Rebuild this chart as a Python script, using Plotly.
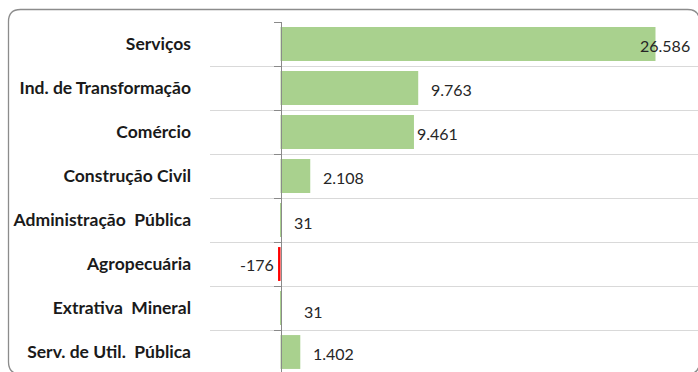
import plotly.graph_objects as go

# Saldo de empregos por setor de atividade
sectors = [
    "Serviços",
    "Ind. de Transformação",
    "Comércio",
    "Construção Civil",
    "Administração  Pública",
    "Agropecuária",
    "Extrativa  Mineral",
    "Serv. de Util.  Pública",
]
saldo = [26586, 9763, 9461, 2108, 31, -176, 31, 1402]

# label nudges (px) relative to the end of each bar
label_dx = [-17, 11, 1, 11, 11, -2, 21, 11]
label_dy = [-1, -1, -1, -1, -2, 0, -3, -1]

GREEN = "#a9d18e"
RED = "#ff0000"

FIG_W, FIG_H = 698, 372
M_L, M_T = 210, 22
X_RANGE = [-5000, 29600]


def fmt(v):
    return f"{v:,}".replace(",", ".")


fig = go.Figure(
    go.Bar(
        x=saldo,
        y=sectors,
        orientation="h",
        marker=dict(color=[GREEN if v >= 0 else RED for v in saldo], line_width=0),
        hoverinfo="skip",
    )
)

for name, v, dx, dy in zip(sectors, saldo, label_dx, label_dy):
    fig.add_annotation(
        x=v,
        y=name,
        text=fmt(v),
        showarrow=False,
        xanchor="left" if v >= 0 else "right",
        yanchor="middle",
        xshift=dx,
        yshift=dy,
        font=dict(family="Lato", size=16, color="#262626"),
    )

# rounded chart frame (pixel geometry converted to paper units)
plot_w = FIG_W - M_L
plot_h = FIG_H - M_T


def px(xp):
    return (xp - M_L) / plot_w


def py(yp):
    return (FIG_H - yp) / plot_h


x0, x1, y0, y1, r = 8.5, 699.5, 9.5, 374.0, 12
path = (
    f"M {px(x0 + r)},{py(y0)} L {px(x1 - r)},{py(y0)} "
    f"Q {px(x1)},{py(y0)} {px(x1)},{py(y0 + r)} "
    f"L {px(x1)},{py(y1 - r)} Q {px(x1)},{py(y1)} {px(x1 - r)},{py(y1)} "
    f"L {px(x0 + r)},{py(y1)} Q {px(x0)},{py(y1)} {px(x0)},{py(y1 - r)} "
    f"L {px(x0)},{py(y0 + r)} Q {px(x0)},{py(y0)} {px(x0 + r)},{py(y0)} Z"
)
fig.add_shape(
    type="path",
    path=path,
    xref="paper",
    yref="paper",
    line=dict(color="#8c8c8c", width=1.3),
    fillcolor="rgba(0,0,0,0)",
    layer="above",
)

band_px = 44
fig.update_layout(
    width=FIG_W,
    height=FIG_H,
    autosize=False,
    margin=dict(l=M_L, r=0, t=M_T, b=0, pad=0),
    paper_bgcolor="white",
    plot_bgcolor="white",
    bargap=0.23,
    showlegend=False,
    xaxis=dict(
        range=X_RANGE,
        showgrid=False,
        zeroline=False,
        showticklabels=False,
        ticks="",
        showline=False,
    ),
    yaxis=dict(
        type="category",
        categoryorder="array",
        categoryarray=sectors,
        range=[-0.5 + plot_h / band_px, -0.5],
        anchor="free",
        position=(0 - X_RANGE[0]) / (X_RANGE[1] - X_RANGE[0]),
        showline=True,
        linecolor="#8a8a8a",
        linewidth=1,
        ticks="outside",
        tickson="boundaries",
        ticklen=7,
        tickcolor="#8a8a8a",
        showgrid=True,
        gridcolor="#d9d9d9",
        gridwidth=1,
        zeroline=False,
        ticklabelstandoff=86,
        tickfont=dict(family="Lato", size=17.5, color="#1a1a1a", weight="bold"),
    ),
)

fig.write_html("out.html")
